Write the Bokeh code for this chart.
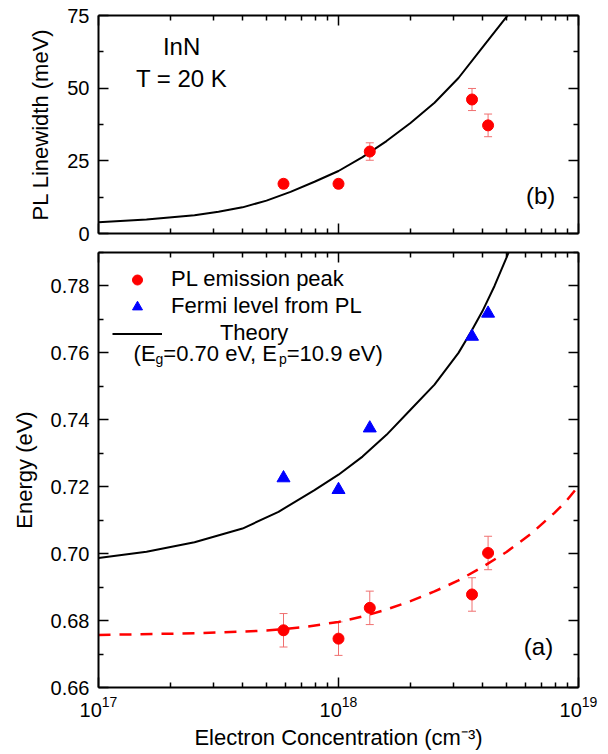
from bokeh.plotting import figure
from bokeh.models import (LogAxis, LinearAxis, FixedTicker, LogTickFormatter,
                          PrintfTickFormatter, BasicTickFormatter, ColumnDataSource,
                          Whisker, TeeHead, Legend, LegendItem, Range1d)
from bokeh.layouts import column
from bokeh.embed import file_html
from bokeh.resources import INLINE
from bokeh.core.properties import value

# ---------------- data ----------------
conc = [5.9e17, 1.0e18, 1.35e18, 3.6e18, 4.2e18]          # electron concentration (cm^-3)
linewidth = [17.1, 17.1, 28.2, 46.1, 37.2]                # PL linewidth (meV)
linewidth_err = [1.5, 1.5, 3.0, 3.8, 3.9]
pl_peak = [0.6771, 0.6746, 0.6838, 0.6878, 0.7002]        # PL emission peak (eV)
pl_peak_err = [0.005, 0.005, 0.005, 0.005, 0.005]
fermi_level = [0.7226, 0.7191, 0.7375, 0.7649, 0.7718]    # Fermi level from PL (eV)

lw_theory_conc = [1.0e17, 1.585e17, 2.512e17, 3.162e17, 3.981e17, 5.012e17, 6.310e17,
                  7.943e17, 1.0e18, 1.259e18, 1.585e18, 1.995e18, 2.512e18, 3.162e18,
                  3.981e18, 5.012e18, 5.370e18]
lw_theory = [3.9, 4.8, 6.3, 7.5, 9.0, 11.3, 14.3, 17.8, 21.5, 26.3, 31.8, 38.0,
             45.0, 53.5, 64.0, 74.5, 78.5]

e_theory_conc = [1.0e17, 1.585e17, 2.512e17, 3.981e17, 5.623e17, 7.943e17, 1.0e18,
                 1.259e18, 1.585e18, 1.995e18, 2.512e18, 3.162e18, 3.548e18, 3.981e18,
                 4.467e18, 5.012e18, 5.248e18]
e_theory = [0.6987, 0.7006, 0.7034, 0.7075, 0.7125, 0.7190, 0.7236, 0.7290, 0.7355,
            0.7430, 0.7505, 0.7600, 0.7660, 0.7725, 0.7800, 0.7885, 0.7920]

pl_fit_conc = [1.0e17, 2.512e17, 5.012e17, 7.079e17, 1.0e18, 1.259e18, 1.585e18,
               1.995e18, 2.512e18, 3.162e18, 3.981e18, 5.012e18, 6.310e18, 7.943e18,
               8.913e18, 1.0e19]
pl_fit = [0.6757, 0.6762, 0.6770, 0.6780, 0.6796, 0.6812, 0.6833, 0.6858, 0.6887,
          0.6920, 0.6960, 0.7005, 0.7058, 0.7122, 0.7158, 0.7202]

x_major_ticks = [1e17, 1e18, 1e19]
x_minor_ticks = [2e17, 3e17, 4e17, 5e17, 6e17, 7e17, 8e17, 9e17,
                 2e18, 3e18, 4e18, 5e18, 6e18, 7e18, 8e18, 9e18]
lw_major_ticks = [0, 25, 50, 75]
lw_minor_ticks = [12.5, 37.5, 62.5]
e_major_ticks = [0.66, 0.68, 0.70, 0.72, 0.74, 0.76, 0.78]
e_minor_ticks = [0.67, 0.69, 0.71, 0.73, 0.75, 0.77, 0.79]

FONT = "Liberation Sans"
RED = "#ff0000"
BLUE = "#0000ff"
ERR = "#f07070"


def style_axis(ax, show_labels):
    ax.axis_line_width = 2
    ax.axis_line_color = "black"
    ax.major_tick_in = 10
    ax.major_tick_out = 0
    ax.minor_tick_in = 5
    ax.minor_tick_out = 0
    ax.major_tick_line_width = 1.5
    ax.minor_tick_line_width = 1.5
    ax.major_tick_line_color = "black"
    ax.minor_tick_line_color = "black"
    ax.major_label_text_font = FONT
    ax.major_label_text_color = "black"
    ax.axis_label_text_font = FONT
    ax.axis_label_text_font_style = "normal"
    ax.axis_label_text_font_size = "22px"
    ax.axis_label_text_color = "black"
    if show_labels:
        ax.major_label_text_font_size = "20px"
        ax.major_label_standoff = 9
    else:
        ax.major_label_text_font_size = "0px"
        ax.major_label_text_alpha = 0
        ax.major_label_standoff = 0


def make_fig(height, y_range, border_top, border_bottom):
    p = figure(width=600, height=height, x_axis_type="log",
               x_range=Range1d(1e17, 1e19), y_range=Range1d(*y_range),
               x_axis_location=None, y_axis_location=None,
               output_backend="svg", toolbar_location=None,
               min_border_left=98, min_border_right=22,
               min_border_top=border_top, min_border_bottom=border_bottom)
    p.grid.visible = False
    p.outline_line_color = None
    p.background_fill_color = "white"
    p.border_fill_color = "white"
    return p


def add_axes(p, y_major, y_minor, y_fmt, ylabel, xlabel, show_x):
    for loc in ["below", "above"]:
        ax = LogAxis(ticker=FixedTicker(ticks=x_major_ticks, minor_ticks=x_minor_ticks),
                     formatter=LogTickFormatter())
        style_axis(ax, show_x and loc == "below")
        if loc == "below" and xlabel:
            ax.axis_label = xlabel
            ax.axis_label_standoff = 5
            ax.major_label_standoff = 8
        p.add_layout(ax, loc)
    for loc in ["left", "right"]:
        ax = LinearAxis(ticker=FixedTicker(ticks=y_major, minor_ticks=y_minor),
                        formatter=y_fmt)
        style_axis(ax, loc == "left")
        if loc == "left":
            ax.axis_label = ylabel
            ax.axis_label_standoff = 11
        p.add_layout(ax, loc)


def add_errors(p, y, err):
    src = ColumnDataSource(dict(x=conc,
                                upper=[v + e for v, e in zip(y, err)],
                                lower=[v - e for v, e in zip(y, err)]))
    w = Whisker(base="x", upper="upper", lower="lower", source=src,
                line_color=ERR, line_width=1,
                upper_head=TeeHead(size=8, line_color=ERR, line_width=1),
                lower_head=TeeHead(size=8, line_color=ERR, line_width=1))
    p.add_layout(w)


# ---------------- top panel (b) ----------------
p1 = make_fig(243, (0, 75), 15, 10)
add_axes(p1, lw_major_ticks, lw_minor_ticks, BasicTickFormatter(),
         "PL Linewidth (meV)", None, False)
p1.line(lw_theory_conc, lw_theory, line_color="black", line_width=2)
add_errors(p1, linewidth, linewidth_err)
p1.scatter(conc, linewidth, marker="circle", size=11, fill_color=RED, line_color=RED)

p1.text(x=[2.22e17, 2.22e17], y=[64.3, 53.3], text=["InN", "T = 20 K"],
        text_font=value(FONT), text_font_size="24px", text_color="black",
        text_align="center", text_baseline="alphabetic")
p1.text(x=[6.95e18], y=[13.2], text=["(b)"], text_font=value(FONT),
        text_font_size="24px", text_color="black", text_align="center",
        text_baseline="alphabetic")

# ---------------- bottom panel (a) ----------------
p2 = make_fig(509, (0.66, 0.79), 9, 64)
add_axes(p2, e_major_ticks, e_minor_ticks, PrintfTickFormatter(format="%.2f"),
         "Energy (eV)", "Electron Concentration (cm\u207b\u00b3)", True)
r_theory = p2.line(e_theory_conc, e_theory, line_color="black", line_width=2)
p2.line(pl_fit_conc, pl_fit, line_color=RED, line_width=2.5, line_dash="12 9")
add_errors(p2, pl_peak, pl_peak_err)
r_pl = p2.scatter(conc, pl_peak, marker="circle", size=11, fill_color=RED, line_color=RED)
r_fermi = p2.scatter(conc, fermi_level, marker="triangle", size=13,
                     fill_color=BLUE, line_color=BLUE)

legend = Legend(items=[LegendItem(label="PL emission peak", renderers=[r_pl]),
                       LegendItem(label="Fermi level from PL", renderers=[r_fermi]),
                       LegendItem(label="\u00a0" * 8 + "Theory", renderers=[r_theory])],
                location="top_left", margin=14, padding=0, spacing=1,
                glyph_width=50, glyph_height=25, label_height=25, label_standoff=9,
                label_text_font=FONT, label_text_font_size="22px", label_text_color="black",
                border_line_color=None, background_fill_alpha=0)
p2.add_layout(legend, "center")

# "(Eg=0.70 eV, Ep=10.9 eV)" with subscripts
p2.text(x=[1.40e17] * 5, y=[0.7597] * 5,
        text=["(E", "g", "=0.70 eV, E", "p", "=10.9 eV)"],
        x_offset=[0, 22.0, 29.8, 145.4, 153.2],
        y_offset=[0, 5, 0, 5, 0],
        text_font_size=["22px", "14px", "22px", "14px", "22px"],
        text_font=value(FONT), text_color="black",
        text_align="left", text_baseline="alphabetic")
p2.text(x=[6.81e18], y=[0.6722], text=["(a)"], text_font=value(FONT),
        text_font_size="24px", text_color="black", text_align="center",
        text_baseline="alphabetic")

layout = column(p1, p2, spacing=0)
open("out.html", "w").write(file_html(layout, INLINE))
